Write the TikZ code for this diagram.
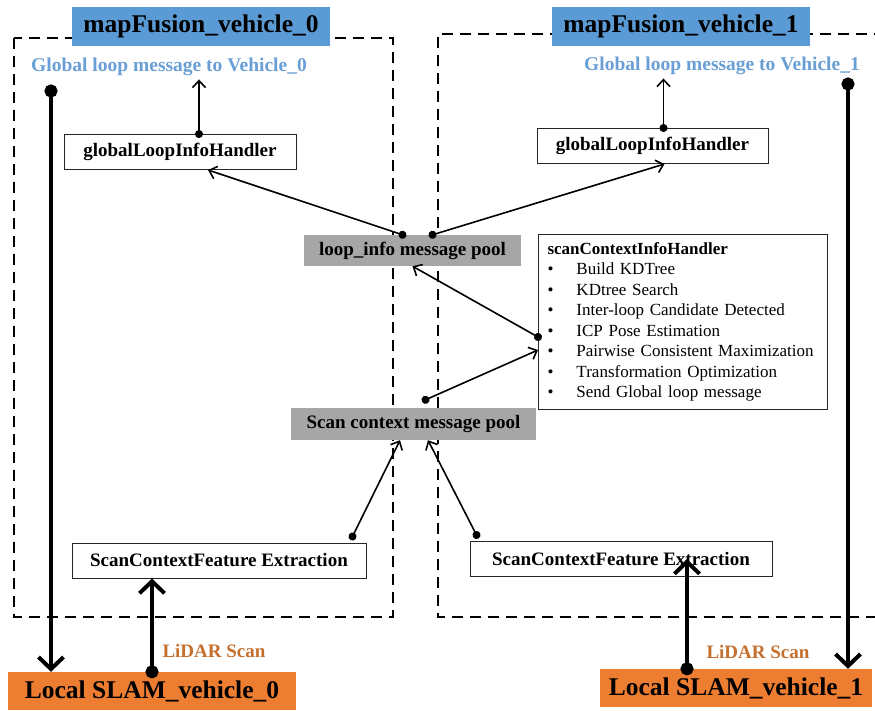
\documentclass[tikz,border=0pt]{standalone}
\usepackage{fontspec}
\setmainfont{Liberation Serif}
\usetikzlibrary{arrows.meta,positioning}

\definecolor{titleblue}{HTML}{5B9BD5}
\definecolor{msgblue}{HTML}{6A9FD6}
\definecolor{slamorange}{HTML}{ED7D31}
\definecolor{lidarbrown}{HTML}{C5702F}
\definecolor{poolgrey}{HTML}{A6A6A6}

\tikzset{
    bigfont/.style={font=\fontsize{25.5}{28}\selectfont\bfseries},
    boxfont/.style={font=\fontsize{19}{22}\selectfont\bfseries},
    titlebox/.style={fill=titleblue, bigfont, inner sep=0, minimum width=258, minimum height=39},
    slambox/.style={fill=slamorange, bigfont, inner sep=0, minimum height=38},
    handler/.style={draw=black!85, line width=1pt, fill=white, boxfont, inner sep=0, minimum height=35},
    pool/.style={fill=poolgrey, boxfont, inner sep=0},
    msg/.style={text=msgblue, font=\fontsize{19.5}{22}\selectfont\bfseries},
    lidar/.style={text=lidarbrown, boxfont},
    frame/.style={line width=2.6pt, dash pattern=on 11pt off 7pt},
    flow/.style={line width=1.6pt, shorten <=-4pt,
        {Circle[length=8pt]}-{Straight Barb[length=7pt,width=13pt]}},
    bigflow/.style={line width=4pt, shorten <=-6.5pt,
        {Circle[length=13pt]}-{Straight Barb[length=12pt,width=25pt]}},
}

\begin{document}
\begin{tikzpicture}[x=1pt,y=-1pt]
    \useasboundingbox (0,0) rectangle (875,710);

    % dashed process frames
    \draw[frame] (14,38) rectangle (393,617);
    \draw[frame] (885,34) -- (438,34) -- (438,617) -- (885,617);

    % titles and messages
    \node[titlebox] (mf0) at (201,26.5) {mapFusion\_vehicle\_0};
    \node[titlebox] (mf1) at (681,26.5) {mapFusion\_vehicle\_1};
    \node[msg] (gm0) at (169,67) {Global loop message to Vehicle\_0};
    \node[msg] (gm1) at (722,66) {Global loop message to Vehicle\_1};

    % handlers and pools
    \node[handler, minimum width=232] (gh0) at (180,152) {globalLoopInfoHandler};
    \node[handler, minimum width=231] (gh1) at (652.5,146) {globalLoopInfoHandler};
    \node[pool, minimum width=217, minimum height=31] (loop) at (412.5,250.5) {loop\_info message pool};
    \node[pool, minimum width=245, minimum height=32] (scan) at (413.5,424) {Scan context message pool};
    \node[draw=black!85, line width=1pt, fill=white, anchor=north west, inner xsep=9pt, inner ysep=5pt,
          text width=271pt, minimum height=175, align=left, font=\fontsize{17}{20.5}\selectfont]
          (sch) at (538,234) {\textbf{scanContextInfoHandler}\\
        \makebox[29pt][l]{\textbullet}Build KDTree\\
        \makebox[29pt][l]{\textbullet}KDtree Search\\
        \makebox[29pt][l]{\textbullet}Inter-loop Candidate Detected\\
        \makebox[29pt][l]{\textbullet}ICP Pose Estimation\\
        \makebox[29pt][l]{\textbullet}Pairwise Consistent Maximization\\
        \makebox[29pt][l]{\textbullet}Transformation Optimization\\
        \makebox[29pt][l]{\textbullet}Send Global loop message};
    \node[handler, minimum width=294] (fe0) at (219,560.5) {ScanContextFeature Extraction};
    \node[handler, minimum width=302] (fe1) at (621,559) {ScanContextFeature Extraction};

    % local slam
    \node[slambox, minimum width=288] (slam0) at (152,691) {Local SLAM\_vehicle\_0};
    \node[slambox, minimum width=272] (slam1) at (736,688) {Local SLAM\_vehicle\_1};
    \node[lidar] (li0) at (214,651) {LiDAR Scan};
    \node[lidar] (li1) at (758,652) {LiDAR Scan};

    \coordinate (up0) at (51,91);
    \coordinate (up1) at (848,84);
    \coordinate (scan1) at ([xshift=-49]slam1.north);

    % connectors
    \draw[flow] ([xshift=19]gh0.north) -- ([xshift=19]gh0.north |- gm0.south);
    \draw[flow] ([xshift=11]gh1.north) -- ([xshift=11]gh1.north |- gm1.south);
    \draw[flow] ([xshift=-10]loop.north) -- ([xshift=28]gh0.south);
    \draw[flow] ([xshift=20]loop.north) -- ([xshift=12]gh1.south);
    \draw[flow] ([yshift=-15]sch.west) -- (loop.south);
    \draw[flow] ([xshift=12,yshift=8]scan.north) -- ([yshift=-28]sch.west);
    \draw[flow] ([xshift=-14,yshift=6]fe0.north east) -- ([xshift=-13.5]scan.south);
    \draw[flow] ([xshift=7,yshift=6]fe1.north west) -- ([xshift=14.5]scan.south);

    \draw[bigflow] (up0) -- (up0 |- slam0.north);
    \draw[bigflow] (up1) -- (up1 |- slam1.north);
    \draw[bigflow] (slam0.north) -- (slam0.north |- fe0.south);
    \draw[bigflow] (scan1) -- (scan1 |- fe1.center);
\end{tikzpicture}
\end{document}
